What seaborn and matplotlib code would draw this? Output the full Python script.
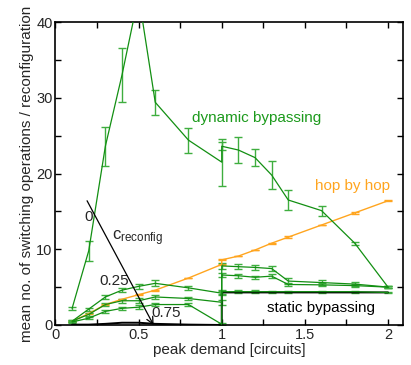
import matplotlib
matplotlib.use("Agg")
import matplotlib.pyplot as plt
import seaborn as sns
import pandas as pd
from matplotlib.ticker import MultipleLocator

# ---------------- data ----------------
x_vals = [0.1, 0.2, 0.3, 0.4, 0.5, 0.6, 0.8, 1.0, 1.0, 1.1, 1.2, 1.3, 1.4, 1.6, 1.8, 2.0]

dyn_y   = [2.2, 9.8, 23.6, 33.0, 43.5, 29.4, 24.4, 21.5, 23.6, 23.1, 22.1, 19.8, 16.5, 15.1, 10.8, 5.0]
dyn_err = [0.2, 1.3, 2.6, 3.6, 3.0, 1.65, 1.65, 3.1, 0.5, 1.7, 1.1, 1.85, 1.3, 0.65, 0.2, 0.15]

c025_y   = [0.5, 2.1, 3.7, 4.6, 5.1, 5.5, 4.9, 4.2, 7.8, 7.7, 7.6, 7.45, 5.8, 5.6, 5.4, 5.0]
c025_err = [0.15, 0.2, 0.3, 0.3, 0.3, 0.4, 0.3, 0.3, 0.4, 0.3, 0.3, 0.3, 0.4, 0.3, 0.3, 0.15]

c050_y   = [0.5, 1.4, 2.7, 3.2, 3.2, 3.7, 3.5, 3.0, 6.6, 6.5, 6.3, 6.45, 5.35, 5.3, 5.2, 5.0]
c050_err = [0.15, 0.2, 0.25, 0.25, 0.3, 0.25, 0.25, 0.3, 0.3, 0.25, 0.2, 0.25, 0.25, 0.2, 0.2, 0.15]

c075_y   = [0.4, 0.9, 1.8, 2.2, 2.35, 2.7, 2.7, 0.1, 4.4, 4.4, 4.4, 4.4, 4.4, 4.4, 4.4, 4.3]
c075_err = [0.15, 0.15, 0.2, 0.2, 0.25, 0.2, 0.2, 0.1, 0.25, 0.2, 0.2, 0.15, 0.15, 0.15, 0.15, 0.1]

hop_y   = [0.5, 1.5, 2.7, 3.4, 4.0, 4.6, 6.2, 8.0, 8.6, 9.1, 9.9, 10.8, 11.6, 13.2, 14.8, 16.4]
hop_err = [0.05, 0.05, 0.05, 0.05, 0.05, 0.05, 0.05, 0.05, 0.05, 0.05, 0.05, 0.05, 0.1, 0.05, 0.1, 0.05]

static_y = [0.05, 0.05, 0.15, 0.3, 0.3, 0.15, 0.05, 0.0, 4.3, 4.3, 4.3, 4.3, 4.3, 4.3, 4.3, 4.3]

x_ticks = [0, 0.5, 1, 1.5, 2]
x_tick_labels = ["0", "0.5", "1", "1.5", "2"]
y_ticks = [0, 10, 20, 30, 40]

# ---------------- style ----------------
sns.set_style("ticks")
plt.rcParams["font.family"] = ["Liberation Sans", "DejaVu Sans"]
plt.rcParams["mathtext.fontset"] = "custom"
plt.rcParams["mathtext.rm"] = "Liberation Sans"
plt.rcParams["mathtext.it"] = "Liberation Sans"

GREEN = "#128f12"
GREEN_ERR = "#3fae3f"
ORANGE = "#ffa51f"

fig = plt.figure(figsize=(4.11, 3.65), dpi=100)
ax = fig.add_axes([0.135, 0.1096, 0.8455, 0.8301])

def series(yvals, color, lw, err=None, ecolor=None):
    df = pd.DataFrame({"x": x_vals, "y": yvals})
    sns.lineplot(data=df, x="x", y="y", ax=ax, sort=False, estimator=None,
                 color=color, lw=lw, zorder=3)
    if err is not None:
        ax.errorbar(x_vals, yvals, yerr=err, fmt="none", ecolor=ecolor,
                    elinewidth=1.0, capsize=2.6, capthick=1.0, zorder=2)

series(static_y, "black", 1.4)
series(hop_y, ORANGE, 1.0, hop_err, ORANGE)
series(c075_y, GREEN, 0.9, c075_err, GREEN_ERR)
series(c050_y, GREEN, 0.9, c050_err, GREEN_ERR)
series(c025_y, GREEN, 0.9, c025_err, GREEN_ERR)
series(dyn_y, GREEN, 0.9, dyn_err, GREEN_ERR)

ax.set_xlim(0, 2.09)
ax.set_ylim(0, 40)
ax.set_xticks(x_ticks)
ax.set_xticklabels(x_tick_labels)
ax.set_yticks(y_ticks)
ax.xaxis.set_minor_locator(MultipleLocator(0.25))
ax.yaxis.set_minor_locator(MultipleLocator(5))
ax.tick_params(which="both", direction="in", top=True, right=True,
               length=4.5, width=1.0, labelsize=10.5, pad=2, color="black")
for s in ax.spines.values():
    s.set_visible(True)
    s.set_linewidth(1.2)
    s.set_color("black")

ax.set_xlabel("peak demand [circuits]", fontsize=11, labelpad=1)
ax.set_ylabel("mean no. of switching operations / reconfiguration", fontsize=11, labelpad=2)

# annotations
ax.annotate("", xy=(0.59, 0.0), xytext=(0.19, 16.4),
            arrowprops=dict(arrowstyle="->", color="black", lw=0.9,
                            shrinkA=0, shrinkB=0, mutation_scale=12), zorder=5)
ax.text(0.197, 14.3, "0", fontsize=11, ha="center", va="center")
ax.text(0.34, 11.4, r"c$_{\mathrm{reconfig}}$", fontsize=12, ha="left", va="center")
ax.text(0.352, 5.8, "0.25", fontsize=11, ha="center", va="center")
ax.text(0.667, 1.55, "0.75", fontsize=11, ha="center", va="center")
ax.text(0.82, 27.3, "dynamic bypassing", fontsize=11, color="#1c9a1c", ha="left", va="center")
ax.text(1.56, 18.3, "hop by hop", fontsize=11, color=ORANGE, ha="left", va="center")
ax.text(1.27, 2.3, "static bypassing", fontsize=11, color="black", ha="left", va="center")

fig.savefig("out.png", dpi=100)
